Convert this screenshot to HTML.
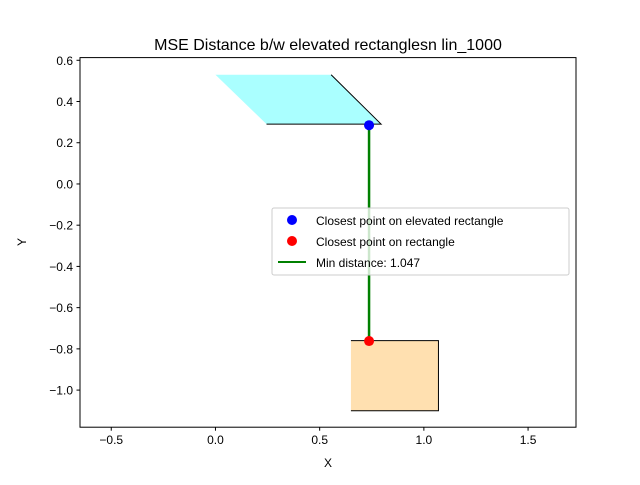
<!DOCTYPE html>
<html><head><meta charset="utf-8"><style>
body{margin:0;background:#fff;}
svg{font-family:"Liberation Sans","DejaVu Sans",sans-serif;}
</style></head><body>
<svg id="chart" width="640" height="480" viewBox="0 0 640 480" xmlns="http://www.w3.org/2000/svg">
<rect width="640" height="480" fill="#fff"/>
<text x="328" y="50" font-size="16" text-anchor="middle">MSE Distance b/w elevated rectanglesn lin_1000</text>
<g id="plot"></g>
<rect x="80" y="57.6" width="496" height="369.6" fill="none" stroke="#000" stroke-width="1"/>
<text x="328" y="467" font-size="12" text-anchor="middle">X</text>
<text x="26" y="242" font-size="12" text-anchor="middle" transform="rotate(-90 26 242)">Y</text>
<g>
<rect x="272" y="208" width="297" height="67" rx="2" fill="#fff" fill-opacity="0.8" stroke="#ccc"/>
<circle cx="292" cy="220" r="5" fill="blue"/>
<text x="316" y="225" font-size="12">Closest point on elevated rectangle</text>
<circle cx="292" cy="241" r="5" fill="red"/>
<text x="316" y="246" font-size="12">Closest point on rectangle</text>
<line x1="278" y1="262" x2="306" y2="262" stroke="green" stroke-width="2"/>
<text x="316" y="267" font-size="12">Min distance: 1.047</text>
</g>
</svg>
<script>
const xTicks=[-0.5,0.0,0.5,1.0,1.5];
const yTicks=[0.6,0.4,0.2,0.0,-0.2,-0.4,-0.6,-0.8,-1.0];
const elevX=[0.0,0.555,0.795,0.245];
const elevY=[0.53,0.53,0.29,0.29];
const rectX=[0.65,1.07,1.07,0.65];
const rectY=[-0.76,-0.76,-1.1,-1.1];
const closestElev=[0.737,0.285];
const closestRect=[0.737,-0.762];
const minDist=1.047;
const NS="http://www.w3.org/2000/svg";
const xmin=-0.65,xmax=1.73,ymin=-1.18,ymax=0.613;
const L=80,R=576,T=57.6,B=427.2;
const sx=v=>L+(v-xmin)/(xmax-xmin)*(R-L);
const sy=v=>B-(v-ymin)/(ymax-ymin)*(B-T);
const svg=document.getElementById('chart');
const plot=document.getElementById('plot');
function mk(t,a,p){const e=document.createElementNS(NS,t);for(const k in a)e.setAttribute(k,a[k]);(p||plot).appendChild(e);return e;}
function pts(xs,ys,idx){return idx.map(i=>sx(xs[i])+','+sy(ys[i])).join(' ');}
let e=mk('polygon',{points:pts(elevX,elevY,[0,1,2,3]),fill:'#aaffff'});


mk('polyline',{points:pts(elevX,elevY,[1,2,3]),fill:'none',stroke:'#000','stroke-width':1});
e=mk('polygon',{points:pts(rectX,rectY,[0,1,2,3]),fill:'#ffe0b0'});


mk('polyline',{points:pts(rectX,rectY,[0,1,2,3]),fill:'none',stroke:'#000','stroke-width':1});
e=mk('line',{x1:sx(closestElev[0]),y1:sy(closestElev[1]),x2:sx(closestRect[0]),y2:sy(closestRect[1]),stroke:'green','stroke-width':2.5});


e=mk('circle',{cx:sx(closestElev[0]),cy:sy(closestElev[1]),r:5,fill:'blue'});


e=mk('circle',{cx:sx(closestRect[0]),cy:sy(closestRect[1]),r:5,fill:'red'});


xTicks.forEach(v=>{const x=sx(v);
mk('line',{x1:x,y1:B,x2:x,y2:B+3.5,stroke:'#000'},svg);
const t=mk('text',{x:x,y:B+17,'font-size':12,'text-anchor':'middle'},svg);
t.textContent=(v<0?'\u2212':'')+Math.abs(v).toFixed(1);

});
yTicks.forEach(v=>{const y=sy(v);
mk('line',{x1:L-3.5,y1:y,x2:L,y2:y,stroke:'#000'},svg);
const t=mk('text',{x:L-7,y:y+4.5,'font-size':12,'text-anchor':'end'},svg);
t.textContent=(v<0?'\u2212':'')+Math.abs(v).toFixed(1);

});
</script>
</body></html>
